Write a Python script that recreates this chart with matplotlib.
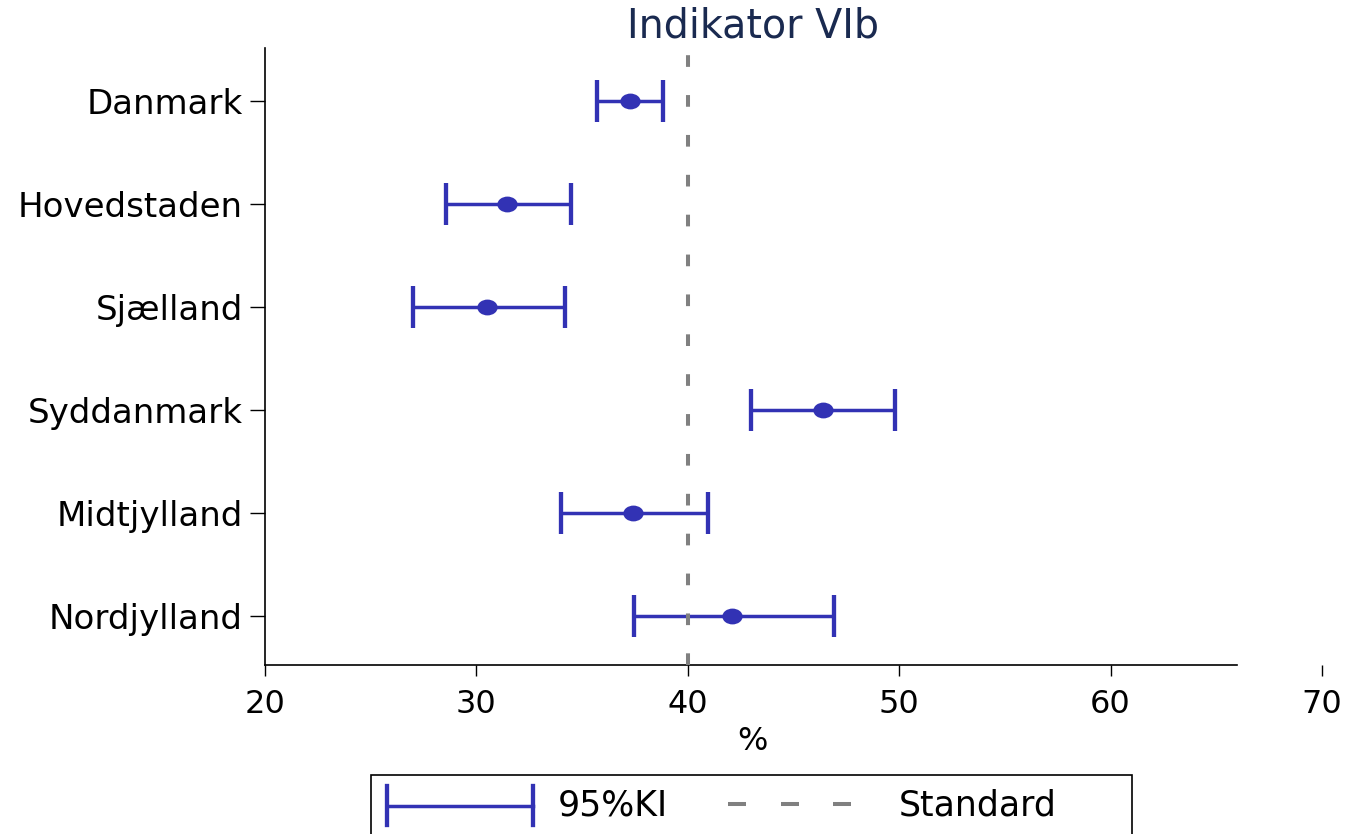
import matplotlib
matplotlib.use("Agg")
import matplotlib.pyplot as plt
from matplotlib.lines import Line2D
from matplotlib.patches import Rectangle
from matplotlib.path import Path
from matplotlib.transforms import Affine2D
import numpy as np

# data
regioner = ["Danmark", "Hovedstaden", "Sjælland", "Syddanmark", "Midtjylland", "Nordjylland"]
andel = [37.26, 31.43, 30.49, 46.38, 37.41, 42.11]
ki_lav = [35.72, 28.55, 27.02, 42.98, 33.98, 37.46]
ki_hoej = [38.84, 34.49, 34.18, 49.78, 40.95, 46.93]
standard = 40
xticks = [20, 30, 40, 50, 60, 70]

BLAA = "#3232b4"
GRAA = "#808080"
W, H = 1348, 834

plt.rcParams["font.family"] = ["DejaVu Sans"]

fig = plt.figure(figsize=(W / 100, H / 100), dpi=100)
ax = fig.add_axes([265 / W, 1 - 665 / H, 1057 / W, (665 - 48) / H])

ypos = np.arange(len(regioner))[::-1]
andel_a = np.array(andel)
lav_a = np.array(ki_lav)
hoej_a = np.array(ki_hoej)

ax.errorbar(andel_a, ypos, xerr=[andel_a - lav_a, hoej_a - andel_a], fmt="none",
            ecolor=BLAA, elinewidth=2.5, capsize=14.8, capthick=3.1, zorder=2)

# elliptisk markør (billedet er strakt vandret)
ell = Path.unit_circle().transformed(Affine2D().scale(1.0, 0.78))
ax.plot(andel_a, ypos, linestyle="none", marker=ell, markersize=14.6,
        color=BLAA, markeredgewidth=0, zorder=3)

ylo, yhi = -0.472, 5.511
ax.plot([standard, standard], [ylo, yhi], color=GRAA, lw=2.9,
        dashes=(2.9, 7.0), zorder=4)

ax.set_xlim(20, 70)
ax.set_ylim(ylo, yhi)
ax.set_xticks(xticks)
ax.set_yticks(ypos)
ax.set_yticklabels(regioner)

for s in ["top", "right"]:
    ax.spines[s].set_visible(False)
ax.spines["bottom"].set_bounds(20, 66.0)
ax.spines["bottom"].set_linewidth(1.2)
ax.spines["left"].set_linewidth(1.2)
ax.tick_params(axis="x", length=8, width=1.0, labelsize=23, pad=9)
ax.tick_params(axis="y", length=10.8, width=1.0, labelsize=24.5, pad=5)

# titel og aksetekst
fig.text(753 / W, 1 - 37 / H, "Indikator VIb", ha="center", va="baseline",
         fontsize=28.5, color="#1a2a50")
fig.text(752 / W, 1 - 742 / H, "%", ha="center", va="center", fontsize=23)

# legende tegnet manuelt
def fx(px):
    return px / W

def fy(py):
    return 1 - py / H

fig.add_artist(Rectangle((fx(371), fy(840)), fx(1132) - fx(371), fy(775) - fy(840),
                         transform=fig.transFigure, facecolor="white",
                         edgecolor="black", linewidth=1.2))
fig.add_artist(Line2D([fx(387), fx(533)], [fy(805.5), fy(805.5)],
                      transform=fig.transFigure, color=BLAA, lw=2.5))
for cx in [387, 533]:
    fig.add_artist(Line2D([fx(cx), fx(cx)], [fy(786), fy(825)],
                          transform=fig.transFigure, color=BLAA, lw=3.1))
fig.text(fx(558), fy(815), "95%KI", ha="left", va="baseline", fontsize=25)
for x0 in [728, 781, 833]:
    fig.add_artist(Line2D([fx(x0), fx(x0 + 18)], [fy(804), fy(804)],
                          transform=fig.transFigure, color=GRAA, lw=2.9,
                          solid_capstyle="butt"))
fig.text(fx(899), fy(815), "Standard", ha="left", va="baseline", fontsize=25)

fig.savefig("out.png", dpi=100, facecolor="white")
